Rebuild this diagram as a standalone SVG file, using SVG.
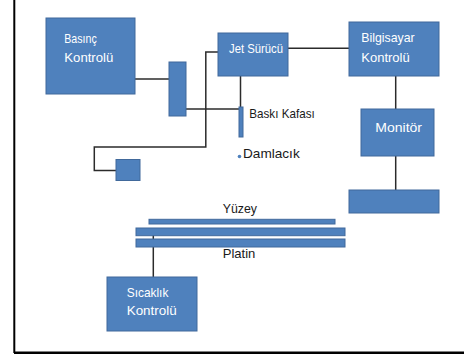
<svg xmlns="http://www.w3.org/2000/svg" width="464" height="356" viewBox="0 0 464 356">
<style>
.box{fill:#4F81BD;stroke:#41699B;stroke-width:1}
.w{fill:#FFFFFF;font-family:"Liberation Sans",Arial,sans-serif;font-size:13px}
.k{fill:#1A1A1A;font-family:"Liberation Sans",Arial,sans-serif;font-size:13px}
.ln{fill:none;stroke:#2B2B2B;stroke-width:1.5}
</style>
<rect x="0" y="0" width="464" height="356" fill="#FFFFFF"/>
<line x1="14.3" y1="0" x2="14.3" y2="353" stroke="#000" stroke-width="2"/>
<line x1="14" y1="352.8" x2="464" y2="352.8" stroke="#000" stroke-width="2.4"/>
<g id="connectors">
<polyline class="ln" points="135,79 169,79"/>
<polyline class="ln" points="186,109 240.5,109"/>
<polyline class="ln" points="218,52 205.8,52 205.8,147 94.3,147 94.3,170.5 116,170.5"/>
<polyline class="ln" points="240.5,76 240.5,108"/>
<polyline class="ln" points="288,48.3 349,48.3"/>
<polyline class="ln" points="395.7,76 395.7,109"/>
<polyline class="ln" points="395.7,156 395.7,190"/>
<polyline class="ln" points="153.3,233 153.3,277"/>
</g>
<g id="basinc-kontrolu">
<rect class="box" x="46" y="18" width="89" height="76"/>
<text class="w" x="64.3" y="43" textLength="32.4" lengthAdjust="spacingAndGlyphs">Basınç</text>
<text class="w" x="64.3" y="62" textLength="49" lengthAdjust="spacingAndGlyphs">Kontrolü</text>
</g>
<g id="valve">
<rect class="box" x="169" y="62" width="17" height="54"/>
</g>
<g id="reservoir">
<rect class="box" x="116" y="159.5" width="24" height="21"/>
</g>
<g id="jet-surucu">
<rect class="box" x="218" y="33" width="70" height="43"/>
<text class="w" x="229" y="53" textLength="54" lengthAdjust="spacingAndGlyphs">Jet Sürücü</text>
</g>
<g id="baski-kafasi">
<rect class="box" x="239" y="107" width="4" height="30"/>
<text class="k" x="249.3" y="118" textLength="65.4" lengthAdjust="spacingAndGlyphs">Baskı Kafası</text>
</g>
<g id="damlacik">
<circle cx="239.5" cy="156.5" r="1.8" fill="#4F81BD"/>
<text class="k" x="243" y="158" textLength="56.7" lengthAdjust="spacingAndGlyphs">Damlacık</text>
</g>
<g id="bilgisayar-kontrolu">
<rect class="box" x="349" y="22" width="90" height="54"/>
<text class="w" x="361.3" y="42.3" textLength="53.4" lengthAdjust="spacingAndGlyphs">Bilgisayar</text>
<text class="w" x="361.3" y="61.7" textLength="48.4" lengthAdjust="spacingAndGlyphs">Kontrolü</text>
</g>
<g id="monitor">
<rect class="box" x="361" y="109" width="73" height="47"/>
<text class="w" x="375.3" y="131.7" textLength="46.7" lengthAdjust="spacingAndGlyphs">Monitör</text>
</g>
<g id="keyboard">
<rect class="box" x="349" y="190" width="90" height="23"/>
</g>
<g id="yuzey">
<rect class="box" x="149" y="219.3" width="186" height="4.7"/>
<text class="k" x="222.7" y="213.3" textLength="34.3" lengthAdjust="spacingAndGlyphs">Yüzey</text>
</g>
<g id="platin">
<rect class="box" x="136" y="228" width="209" height="7.7"/>
<rect class="box" x="136" y="239" width="209" height="8"/>
<text class="k" x="222.7" y="258.3" textLength="32.7" lengthAdjust="spacingAndGlyphs">Platin</text>
</g>
<g id="sicaklik-kontrolu">
<rect class="box" x="107" y="277" width="90" height="54"/>
<text class="w" x="126.7" y="296.7" textLength="41.7" lengthAdjust="spacingAndGlyphs">Sıcaklık</text>
<text class="w" x="126.7" y="315" textLength="50" lengthAdjust="spacingAndGlyphs">Kontrolü</text>
</g>
</svg>
